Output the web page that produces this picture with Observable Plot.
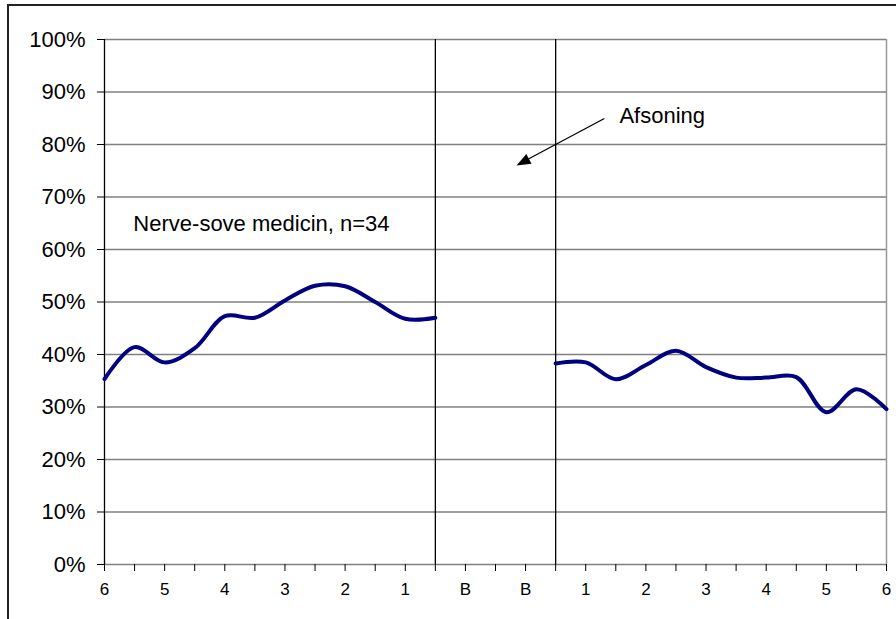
<!DOCTYPE html>
<html>
<head>
<meta charset="utf-8">
<script src="https://cdn.jsdelivr.net/npm/d3@7"></script>
<script src="https://cdn.jsdelivr.net/npm/@observablehq/plot@0.6"></script>
<style>
  body { margin: 0; background: #fff; }
  #wrap { position: relative; width: 896px; height: 619px; overflow: hidden; background: #fff; }
  #frame { position: absolute; left: 7px; top: 4px; width: 1000px; height: 1000px;
           border-top: 2px solid #222; border-left: 2px solid #222; }
  #chart { position: absolute; left: 0; top: 0; }
</style>
</head>
<body>
<div id="wrap"><div id="frame"></div><div id="chart"></div></div>
<script>
// Month positions: 6..1 months before, the two B periods, then 1..6 months after
const tickPositions = [0, 2, 4, 6, 8, 10, 12, 14, 16, 18, 20, 22, 24, 26];
const tickLabels = ["6", "5", "4", "3", "2", "1", "B", "B", "1", "2", "3", "4", "5", "6"];
const minorTicks = [0, 1, 2, 3, 4, 5, 6, 7, 8, 9, 10, 11, 12, 13, 14, 15, 16, 17, 18, 19, 20, 21, 22, 23, 24, 25, 26];
const yTicks = [0, 10, 20, 30, 40, 50, 60, 70, 80, 90, 100];

// Share (%) on nerve/sleep medication before the sentence
const beforeX = [0, 1, 2, 3, 4, 5, 6, 7, 8, 9, 10, 11];
const beforeValues = [35.3, 41.4, 38.5, 41.2, 47.3, 47.0, 50.3, 53.1, 53.0, 50.0, 46.8, 47.0];

// Share (%) after release
const afterX = [15, 16, 17, 18, 19, 20, 21, 22, 23, 24, 25, 26];
const afterValues = [38.3, 38.5, 35.3, 38.0, 40.7, 37.6, 35.6, 35.6, 35.7, 29.0, 33.4, 29.6];

// Boundaries of the prison period
const dividers = [11, 15];

// Annotations (in data units)
const seriesNote = [{x: 0.96, y: 64.8, text: "Nerve-sove medicin, n=34"}];
const periodNote = [{x: 17.12, y: 85.5, text: "Afsoning"}];
const arrowLink = [{x1: 16.62, y1: 84.95, x2: 13.75, y2: 76.2}];
const arrowTip = [{x: 13.70, y: 76.0}];

const before = beforeX.map((x, i) => ({x, y: beforeValues[i]}));
const after = afterX.map((x, i) => ({x, y: afterValues[i]}));
const labelAt = new Map(tickPositions.map((p, i) => [p, tickLabels[i]]));

// Filled arrowhead with its tip at the origin, pointing down-left
const headAngle = Math.atan2(47, -88);
const arrowHead = {
  draw(context) {
    const L = 14, W = 11;
    const c = Math.cos(headAngle), s = Math.sin(headAngle);
    const pt = (u, v) => [u * c - v * s, u * s + v * c];
    const a = pt(-L, -W / 2), b = pt(-L, W / 2);
    context.moveTo(0, 0);
    context.lineTo(a[0], a[1]);
    context.lineTo(b[0], b[1]);
    context.closePath();
  }
};

const font = "'Liberation Sans', Arial, Helvetica, sans-serif";

const chart = Plot.plot({
  width: 896,
  height: 619,
  marginLeft: 104,
  marginRight: 10,
  marginTop: 39,
  marginBottom: 55,
  style: {fontFamily: font, background: "transparent", color: "#000", overflow: "visible"},
  x: {domain: [0, 26]},
  y: {domain: [0, 100]},
  marks: [
    Plot.gridY({ticks: yTicks, stroke: "#808080", strokeOpacity: 1, strokeWidth: 1.3}),
    Plot.ruleX([26], {stroke: "#999", strokeWidth: 1.5}),
    Plot.ruleX([0], {stroke: "#000", strokeWidth: 1.3}),
    Plot.ruleX(dividers, {stroke: "#000", strokeWidth: 1.3}),
    Plot.axisY({ticks: yTicks, tickFormat: d => d + "%", tickSize: 7, tickPadding: 12, fontSize: 22, label: null}),
    Plot.axisX({ticks: minorTicks, tickFormat: d => labelAt.get(d) ?? "", tickSize: 7, tickPadding: 11, fontSize: 17, label: null}),
    Plot.line(before, {x: "x", y: "y", curve: "catmull-rom", stroke: "#000080", strokeWidth: 4}),
    Plot.line(after, {x: "x", y: "y", curve: "catmull-rom", stroke: "#000080", strokeWidth: 4}),
    Plot.link(arrowLink, {x1: "x1", y1: "y1", x2: "x2", y2: "y2", stroke: "#000", strokeWidth: 1.3}),
    Plot.dot(arrowTip, {x: "x", y: "y", symbol: arrowHead, fill: "#000", stroke: "none", r: 6}),
    Plot.text(seriesNote, {x: "x", y: "y", text: "text", textAnchor: "start", lineAnchor: "middle", fontSize: 22, fill: "#000"}),
    Plot.text(periodNote, {x: "x", y: "y", text: "text", textAnchor: "start", lineAnchor: "middle", fontSize: 22, fill: "#000"})
  ]
});

document.getElementById("chart").appendChild(chart);
</script>
</body>
</html>
